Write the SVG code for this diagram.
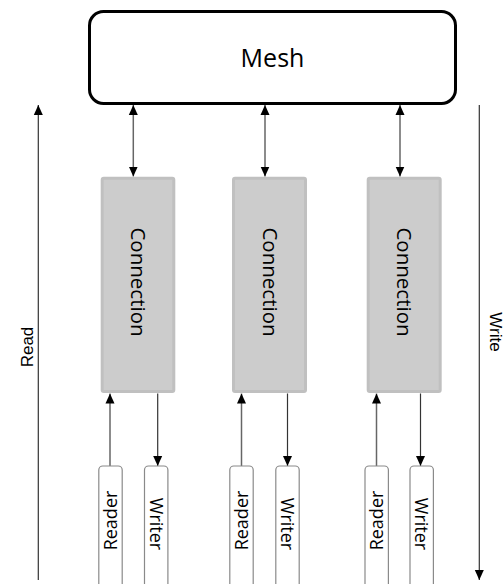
<svg xmlns="http://www.w3.org/2000/svg" width="504" height="584" viewBox="0 0 504 584">
  <style>
    .mesh { fill: #ffffff; stroke: #000000; stroke-width: 3; }
    .conn { fill: #cccccc; stroke: #c0c0c0; stroke-width: 3; }
    .io { fill: #ffffff; stroke: #8a8a8a; stroke-width: 1.2; }
    .lbl { font-family: "Open Sans", "DejaVu Sans", sans-serif; fill: #000000; text-anchor: middle; }
    .side { font-family: "Liberation Sans", Arial, sans-serif; fill: #000000; text-anchor: middle; }
    .edge { stroke: #333333; stroke-width: 1.2; fill: none; }
    .edge2 { stroke: #666666; stroke-width: 1.5; fill: none; }
  </style>
  <defs>
    <marker id="ah" markerUnits="userSpaceOnUse" markerWidth="10" markerHeight="10" refX="10" refY="4.5" orient="auto-start-reverse" viewBox="0 0 10 9">
      <path d="M0,0 L10,4.5 L0,9 z" fill="#000000"/>
    </marker>
  </defs>

  <g id="connectors">
    <line class="edge2" x1="133.3" y1="105" x2="133.3" y2="176.5" marker-start="url(#ah)" marker-end="url(#ah)"/>
    <line class="edge2" x1="265" y1="105" x2="265" y2="176.5" marker-start="url(#ah)" marker-end="url(#ah)"/>
    <line class="edge2" x1="400" y1="105" x2="400" y2="176.5" marker-start="url(#ah)" marker-end="url(#ah)"/>

    <line class="edge2" x1="110" y1="466" x2="110" y2="393.5" marker-end="url(#ah)"/>
    <line class="edge" x1="157.7" y1="393.5" x2="157.7" y2="466" marker-end="url(#ah)"/>
    <line class="edge2" x1="241.5" y1="466" x2="241.5" y2="393.5" marker-end="url(#ah)"/>
    <line class="edge" x1="287.5" y1="393.5" x2="287.5" y2="466" marker-end="url(#ah)"/>
    <line class="edge2" x1="376.5" y1="466" x2="376.5" y2="393.5" marker-end="url(#ah)"/>
    <line class="edge" x1="420.5" y1="393.5" x2="420.5" y2="466" marker-end="url(#ah)"/>

    <line class="edge" x1="38.3" y1="580" x2="38.3" y2="105" marker-end="url(#ah)"/>
    <line class="edge" x1="479.3" y1="105" x2="479.3" y2="580" marker-end="url(#ah)"/>
  </g>

  <g id="mesh">
    <rect class="mesh" x="89.5" y="11.5" width="366" height="92" rx="14" ry="14"/>
    <text class="lbl" x="272.5" y="67" font-size="25">Mesh</text>
  </g>

  <g id="connection1">
    <rect class="conn" x="102.2" y="178.2" width="71.6" height="213.3" rx="1.5"/>
    <text class="lbl" font-size="20.5" transform="translate(138,282) rotate(90)" dy="7">Connection</text>
  </g>
  <g id="connection2">
    <rect class="conn" x="233.5" y="178.2" width="72" height="213.3" rx="1.5"/>
    <text class="lbl" font-size="20.5" transform="translate(269.5,282) rotate(90)" dy="7">Connection</text>
  </g>
  <g id="connection3">
    <rect class="conn" x="368.2" y="178.2" width="72" height="213.3" rx="1.5"/>
    <text class="lbl" font-size="20.5" transform="translate(404.2,282) rotate(90)" dy="7">Connection</text>
  </g>

  <g id="reader1">
    <rect class="io" x="98.8" y="466" width="23.4" height="124" rx="4"/>
    <text class="lbl" font-size="18" transform="translate(110.5,520.5) rotate(-90)" dy="6.3">Reader</text>
  </g>
  <g id="writer1">
    <rect class="io" x="144.5" y="466" width="23.4" height="124" rx="4"/>
    <text class="lbl" font-size="18" transform="translate(156.2,524) rotate(90)" dy="6.3">Writer</text>
  </g>
  <g id="reader2">
    <rect class="io" x="229.8" y="466" width="23.4" height="124" rx="4"/>
    <text class="lbl" font-size="18" transform="translate(241.5,520.5) rotate(-90)" dy="6.3">Reader</text>
  </g>
  <g id="writer2">
    <rect class="io" x="275.8" y="466" width="23.4" height="124" rx="4"/>
    <text class="lbl" font-size="18" transform="translate(287.5,524) rotate(90)" dy="6.3">Writer</text>
  </g>
  <g id="reader3">
    <rect class="io" x="365" y="466" width="23.4" height="124" rx="4"/>
    <text class="lbl" font-size="18" transform="translate(376.7,520.5) rotate(-90)" dy="6.3">Reader</text>
  </g>
  <g id="writer3">
    <rect class="io" x="410" y="466" width="23.4" height="124" rx="4"/>
    <text class="lbl" font-size="18" transform="translate(421.7,524) rotate(90)" dy="6.3">Writer</text>
  </g>

  <g id="read-label">
    <text class="side" font-size="17" transform="translate(33,347) rotate(-90)">Read</text>
  </g>
  <g id="write-label">
    <text class="side" font-size="17" transform="translate(489.5,332) rotate(90)">Write</text>
  </g>
</svg>
